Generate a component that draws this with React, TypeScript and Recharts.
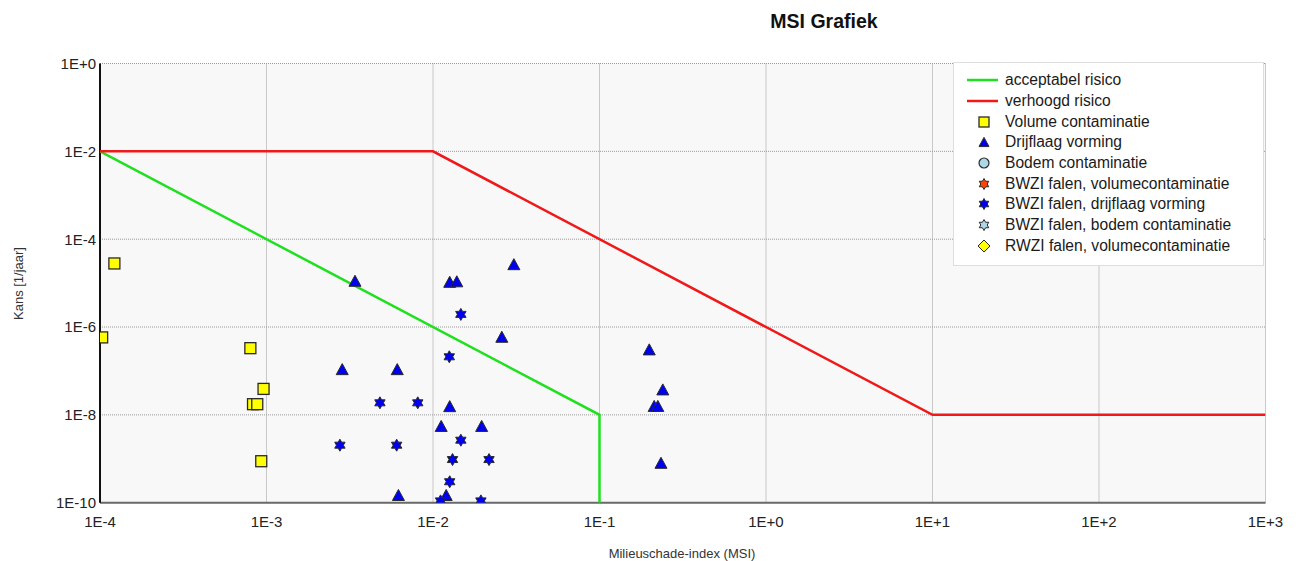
import React from "react";
import { ScatterChart, Scatter, XAxis, YAxis, CartesianGrid, Legend } from "recharts";

const FONT = "'Liberation Sans', Arial, sans-serif";

// axis ticks (log decades)
const xTicks = [1e-4, 1e-3, 1e-2, 1e-1, 1e0, 1e1, 1e2, 1e3];
const yTicks = [1e0, 1e-2, 1e-4, 1e-6, 1e-8, 1e-10];

// risk boundaries
const acceptMsi = [1e-4, 1e-1, 1e-1];
const acceptKans = [1e-2, 1e-8, 1e-10];
const verhoogdMsi = [1e-4, 1e-2, 1e1, 1e3];
const verhoogdKans = [1e-2, 1e-2, 1e-8, 1e-8];

// Volume contaminatie
const volMsi = [1.22e-4, 1.03e-4, 8.0e-4, 9.6e-4, 8.3e-4, 8.8e-4, 9.3e-4];
const volKans = [2.8e-5, 5.8e-7, 3.3e-7, 3.9e-8, 1.75e-8, 1.75e-8, 8.8e-10];

// Drijflaag vorming
const drijfMsi = [
  3.4e-3, 1.26e-2, 1.39e-2, 3.06e-2, 2.59e-2, 2.85e-3, 6.1e-3, 1.26e-2, 1.12e-2,
  1.96e-2, 6.2e-3, 1.2e-2, 0.199, 0.24, 0.213, 0.224, 0.234,
];
const drijfKans = [
  1.13e-5, 1.07e-5, 1.1e-5, 2.7e-5, 6.0e-7, 1.1e-7, 1.1e-7, 1.58e-8, 5.6e-9,
  5.6e-9, 1.5e-10, 1.5e-10, 3.1e-7, 3.8e-8, 1.6e-8, 1.6e-8, 8.1e-10,
];

// BWZI falen, drijflaag vorming
const bwziDrijfMsi = [
  0.0147, 0.01253, 4.8e-3, 8.1e-3, 2.76e-3, 6.05e-3, 0.0147, 0.0131, 0.0217,
  0.0126, 0.0111, 0.0194,
];
const bwziDrijfKans = [
  1.94e-6, 2.1e-7, 1.88e-8, 1.88e-8, 2.04e-9, 2.04e-9, 2.65e-9, 9.6e-10, 9.6e-10,
  3.0e-10, 1.1e-10, 1.1e-10,
];

const toPoints = (xs: number[], ys: number[]) => xs.map((x, i) => ({ x, y: ys[i] }));

type Kind = "line" | "square" | "triangle" | "circle" | "star" | "diamond";

const legendItems: { name: string; kind: Kind; color: string }[] = [
  { name: "acceptabel risico", kind: "line", color: "#1fe01f" },
  { name: "verhoogd risico", kind: "line", color: "#f01818" },
  { name: "Volume contaminatie", kind: "square", color: "#ffff00" },
  { name: "Drijflaag vorming", kind: "triangle", color: "#0000f0" },
  { name: "Bodem contaminatie", kind: "circle", color: "#add8e6" },
  { name: "BWZI falen, volumecontaminatie", kind: "star", color: "#ff4500" },
  { name: "BWZI falen, drijflaag vorming", kind: "star", color: "#0000f0" },
  { name: "BWZI falen, bodem contaminatie", kind: "star", color: "#add8e6" },
  { name: "RWZI falen, volumecontaminatie", kind: "diamond", color: "#ffff00" },
];

function fmtExp(v: number) {
  const e = Math.round(Math.log10(v));
  return `1E${e >= 0 ? "+" : ""}${e}`;
}

function Marker({ kind, cx, cy, s, color }: { kind: Kind; cx: number; cy: number; s: number; color: string }) {
  const stroke = "#2a2a2a";
  if (kind === "square") {
    return <rect x={cx - s / 2} y={cy - s / 2} width={s} height={s} fill={color} stroke={stroke} strokeWidth={1.3} />;
  }
  if (kind === "triangle") {
    const h = s * 0.92;
    return (
      <polygon
        points={`${cx},${cy - h / 2} ${cx + s / 2},${cy + h / 2} ${cx - s / 2},${cy + h / 2}`}
        fill={color}
        stroke={stroke}
        strokeWidth={1}
        strokeLinejoin="round"
      />
    );
  }
  if (kind === "circle") {
    return <circle cx={cx} cy={cy} r={s / 2} fill={color} stroke={stroke} strokeWidth={1.2} />;
  }
  if (kind === "diamond") {
    const r = s / 2 + 1;
    return (
      <polygon
        points={`${cx},${cy - r} ${cx + r},${cy} ${cx},${cy + r} ${cx - r},${cy}`}
        fill={color}
        stroke={stroke}
        strokeWidth={1}
      />
    );
  }
  // six-pointed star
  const R = s / 2 + 0.5;
  const pts: string[] = [];
  for (let k = 0; k < 12; k++) {
    const a = ((-90 + k * 30) * Math.PI) / 180;
    const r = k % 2 === 0 ? R : R / Math.sqrt(3);
    pts.push(`${cx + r * Math.cos(a)},${cy + r * Math.sin(a)}`);
  }
  return <polygon points={pts.join(" ")} fill={color} stroke={stroke} strokeWidth={1} strokeLinejoin="round" />;
}

const renderLegend = () => (
  <div
    style={{
      width: 311,
      height: 204,
      boxSizing: "border-box",
      background: "#fff",
      border: "1px solid #dedede",
      paddingTop: 7,
      fontFamily: FONT,
      fontSize: 15.6,
      color: "#1a1a1a",
    }}
  >
    {legendItems.map((item) => (
      <div key={item.name} style={{ display: "flex", alignItems: "center", height: 20.7 }}>
        <svg width={51} height={20} style={{ flex: "none" }}>
          {item.kind === "line" ? (
            <line x1={13} x2={44} y1={10} y2={10} stroke={item.color} strokeWidth={2.5} />
          ) : (
            <Marker kind={item.kind} cx={30} cy={10} s={10} color={item.color} />
          )}
        </svg>
        <span style={{ whiteSpace: "nowrap" }}>{item.name}</span>
      </div>
    ))}
  </div>
);

const tickStyle = { fill: "#222", fontSize: 15, fontFamily: FONT };

export default function App() {
  return (
    <div style={{ position: "absolute", left: 0, top: 0, width: 1301, height: 561, background: "#fff" }}>
      <div
        style={{
          position: "absolute",
          left: 724,
          top: 12,
          width: 200,
          textAlign: "center",
          fontFamily: FONT,
          fontWeight: "bold",
          fontSize: 19.5,
          lineHeight: "19px",
          color: "#111",
        }}
      >
        MSI Grafiek
      </div>
      <ScatterChart width={1301} height={561} margin={{ top: 63.5, right: 35.5, bottom: 28.3, left: 40 }}>
        <CartesianGrid fill="#f8f8f8" stroke="#999" strokeDasharray="1 1" />
        <XAxis
          type="number"
          dataKey="x"
          scale="log"
          domain={[1e-4, 1e3]}
          ticks={xTicks}
          interval={0}
          allowDataOverflow
          tickFormatter={fmtExp}
          tick={tickStyle}
          tickLine={false}
          tickSize={6}
          tickMargin={8}
          height={30}
          axisLine={{ stroke: "#6a6a6a", strokeWidth: 2 }}
        />
        <YAxis
          type="number"
          dataKey="y"
          scale="log"
          domain={[1e-10, 1]}
          ticks={yTicks}
          interval={0}
          allowDataOverflow
          tickFormatter={fmtExp}
          tick={tickStyle}
          tickLine={false}
          tickSize={2}
          tickMargin={2}
          width={60}
          axisLine={{ stroke: "#111", strokeWidth: 2 }}
        />
        <Legend
          layout="vertical"
          align="center"
          verticalAlign="middle"
          wrapperStyle={{ left: 953, top: 62 }}
          content={renderLegend}
        />
        <Scatter
          name="acceptabel risico"
          data={toPoints(acceptMsi, acceptKans)}
          line={{ stroke: "#1fe01f", strokeWidth: 2.5 }}
          shape={() => <g />}
          isAnimationActive={false}
        />
        <Scatter
          name="verhoogd risico"
          data={toPoints(verhoogdMsi, verhoogdKans)}
          line={{ stroke: "#f01818", strokeWidth: 2.5 }}
          shape={() => <g />}
          isAnimationActive={false}
        />
        <Scatter
          name="Volume contaminatie"
          data={toPoints(volMsi, volKans)}
          shape={(p: any) => <Marker kind="square" cx={p.cx} cy={p.cy} s={11} color="#ffff00" />}
          isAnimationActive={false}
        />
        <Scatter
          name="Drijflaag vorming"
          data={toPoints(drijfMsi, drijfKans)}
          shape={(p: any) => <Marker kind="triangle" cx={p.cx} cy={p.cy} s={12} color="#0000f0" />}
          isAnimationActive={false}
        />
        <Scatter
          name="BWZI falen, drijflaag vorming"
          data={toPoints(bwziDrijfMsi, bwziDrijfKans)}
          shape={(p: any) => <Marker kind="star" cx={p.cx} cy={p.cy} s={11} color="#0000f0" />}
          isAnimationActive={false}
        />
      </ScatterChart>
      <div
        style={{
          position: "absolute",
          left: 582,
          top: 546.5,
          width: 200,
          textAlign: "center",
          fontFamily: FONT,
          fontSize: 13,
          lineHeight: "13px",
          color: "#333",
        }}
      >
        Milieuschade-index (MSI)
      </div>
      <div
        style={{
          position: "absolute",
          left: 17.5 - 60,
          top: 283 - 6.5,
          width: 120,
          textAlign: "center",
          fontFamily: FONT,
          fontSize: 13,
          lineHeight: "13px",
          color: "#333",
          transform: "rotate(-90deg)",
        }}
      >
        Kans [1/jaar]
      </div>
    </div>
  );
}
